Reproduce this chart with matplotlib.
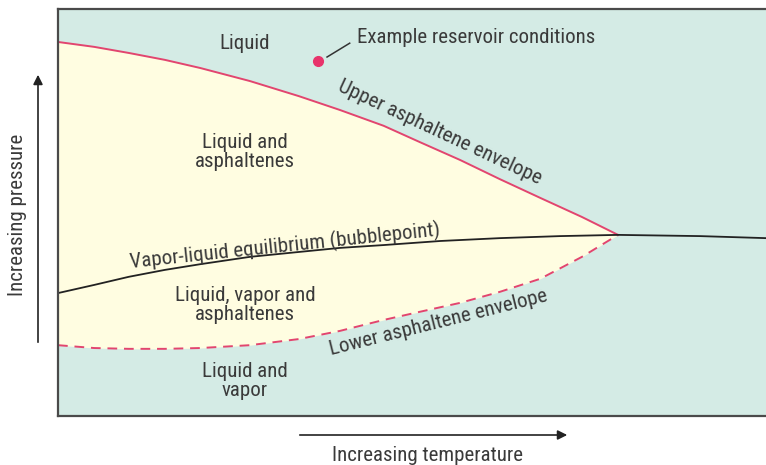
import numpy as np
import matplotlib
matplotlib.use('Agg')
import matplotlib.pyplot as plt

plt.rcParams['font.family'] = ['Roboto Condensed', 'Liberation Sans Narrow', 'Roboto', 'DejaVu Sans']

# Phase diagram curves (arbitrary units: temperature 0-100, pressure 0-100)
temp_env  = [0, 5.1, 10, 15.1, 20.1, 27.1, 34, 39.8, 46, 51.1, 56.8, 62.4, 68.1, 74, 79.1]
upper_env = [91.9, 90.7, 89.2, 87.5, 85.5, 82.3, 78.6, 75.2, 71.3, 67.3, 62.9, 58.2, 53.6, 48.9, 44.5]
lower_env = [17.4, 16.7, 16.5, 16.5, 16.7, 17.4, 18.9, 20.9, 23.6, 25.6, 27.8, 30.5, 33.7, 39.1, 44.5]

temp_bub  = [0, 5.1, 10, 15.1, 20.1, 27.1, 34, 39.8, 46, 54, 62.4, 70.9, 79.1, 90.7, 100]
bubble    = [30.2, 32.2, 34.2, 35.9, 37.3, 39.1, 40.3, 41.3, 42.0, 43.0, 43.7, 44.2, 44.5, 44.2, 43.7]

res_temp, res_pres = 36.7, 87.2

bg_col    = '#d4ebe5'
cream_col = '#fffde1'
red_col   = '#e2456f'
txt_col   = '#3a3a3a'

fig = plt.figure(figsize=(7.66, 4.65), dpi=100, facecolor='w')
ax = fig.add_axes([58/766., 49/465., 708/766., 407/465.])
ax.set_facecolor(bg_col)
ax.set_xlim(0, 100)
ax.set_ylim(0, 100)
ax.set_xticks([])
ax.set_yticks([])
for s in ['left', 'top', 'bottom']:
    ax.spines[s].set_color('#4a4a4a')
    ax.spines[s].set_linewidth(1.6)
ax.spines['right'].set_visible(False)

# envelope fill + curves
ax.fill_between(temp_env, lower_env, upper_env, color=cream_col, lw=0)
ax.plot(temp_env, upper_env, color=red_col, lw=1.4)
ax.plot(temp_env, lower_env, color=red_col, lw=1.4, dashes=[5, 3.5])
ax.plot(temp_bub, bubble, color='#222222', lw=1.3)

# reservoir point
ax.plot(res_temp, res_pres, 'o', ms=7, color='#e8336b', mec='#e8336b')
ax.plot([38.0, 41.2], [88.2, 91.6], color='#333333', lw=1.1)
fs = 15
ax.text(42.2, 92.9, 'Example reservoir conditions', ha='left', va='center',
        fontsize=fs, color=txt_col)

# region labels
ax.text(26.4, 91.6, 'Liquid', ha='center', va='center', fontsize=fs, color=txt_col)
ax.text(26.4, 64.9, 'Liquid and\nasphaltenes', ha='center', va='center',
        fontsize=fs, color=txt_col, linespacing=1.0)
ax.text(26.4, 27.3, 'Liquid, vapor and\nasphaltenes', ha='center', va='center',
        fontsize=fs, color=txt_col, linespacing=1.0)
ax.text(26.4, 8.6, 'Liquid and\nvapor', ha='center', va='center',
        fontsize=fs, color=txt_col, linespacing=1.0)

# curve labels
ax.text(54.0, 69.8, 'Upper asphaltene envelope', ha='center', va='center',
        fontsize=fs, color=txt_col, rotation=-25, rotation_mode='anchor')
ax.text(32.1, 41.8, 'Vapor-liquid equilibrium (bubblepoint)', ha='center', va='center',
        fontsize=fs, color=txt_col, rotation=6, rotation_mode='anchor')
ax.text(53.7, 23.0, 'Lower asphaltene envelope', ha='center', va='center',
        fontsize=fs, color=txt_col, rotation=14, rotation_mode='anchor')

# axis arrows
fig.add_artist(matplotlib.patches.FancyArrowPatch(
    (38/766., 120/465.), (38/766., 393/465.), transform=fig.transFigure,
    arrowstyle='-|>', mutation_scale=14, color='#222222', lw=1.2))
fig.add_artist(matplotlib.patches.FancyArrowPatch(
    (297/766., 30/465.), (570/766., 30/465.), transform=fig.transFigure,
    arrowstyle='-|>', mutation_scale=14, color='#222222', lw=1.2))
fig.text(18/766., 250/465., 'Increasing pressure', rotation=90, ha='center', va='center',
         fontsize=fs, color=txt_col)
fig.text(428/766., 10/465., 'Increasing temperature', ha='center', va='center',
         fontsize=fs, color=txt_col)

fig.savefig('out.png', dpi=100)
